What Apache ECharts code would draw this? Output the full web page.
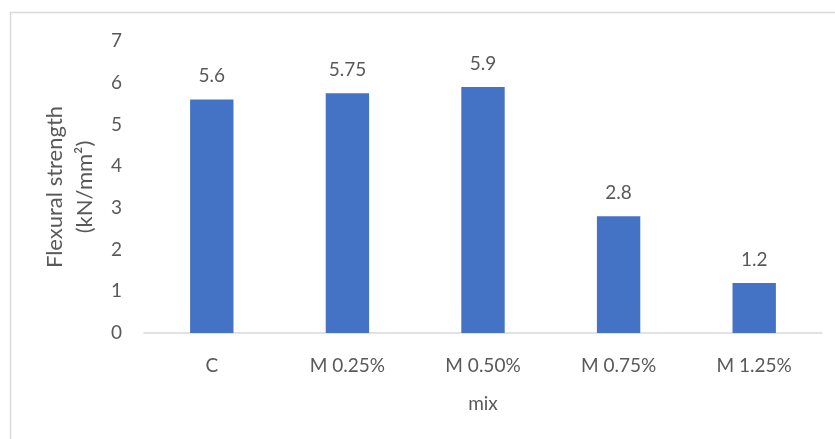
<!DOCTYPE html>
<html>
<head>
<meta charset="utf-8">
<script src="https://cdn.jsdelivr.net/npm/echarts@6/dist/echarts.min.js"></script>
<style>
  html, body { margin: 0; padding: 0; background: #fff; }
  #chart { width: 835px; height: 439px; }
</style>
</head>
<body>
<div id="chart"></div>
<script>
// Flexural strength per mix
const categories = ['C', 'M 0.25%', 'M 0.50%', 'M 0.75%', 'M 1.25%'];
const strength = [5.6, 5.75, 5.9, 2.8, 1.2];
const yTicks = { min: 0, max: 7, interval: 1 };

const textColor = '#595959';
const fontFamily = 'Lato, "Open Sans", sans-serif';

const chart = echarts.init(document.getElementById('chart'), null, { renderer: 'canvas' });
chart.setOption({
  animation: false,
  backgroundColor: '#ffffff',
  textStyle: { fontFamily: fontFamily, color: textColor },
  graphic: [{
    type: 'rect',
    shape: { x: 10.5, y: 12.5, width: 1000, height: 1000 },
    style: { fill: 'none', stroke: '#d9d9d9', lineWidth: 1.5 },
    silent: true
  }],
  grid: { left: 144, right: 13, top: 41, bottom: 106, containLabel: false },
  xAxis: {
    type: 'category',
    data: categories,
    name: 'mix',
    nameLocation: 'middle',
    nameGap: 61,
    nameTextStyle: { fontSize: 19, color: textColor, fontFamily: fontFamily },
    axisLine: { lineStyle: { color: '#d9d9d9', width: 1.5 } },
    axisTick: { show: false },
    axisLabel: { fontSize: 19, color: textColor, margin: 23, fontFamily: fontFamily }
  },
  yAxis: {
    type: 'value',
    min: yTicks.min,
    max: yTicks.max,
    interval: yTicks.interval,
    name: 'Flexural strength\n(kN/mm\u00B2)',
    nameLocation: 'middle',
    nameGap: 42,
    nameRotate: 90,
    nameTextStyle: { fontSize: 22, lineHeight: 30, color: textColor, fontFamily: fontFamily },
    axisLine: { show: false },
    axisTick: { show: false },
    splitLine: { show: false },
    axisLabel: { fontSize: 19, color: textColor, margin: 22, fontFamily: fontFamily }
  },
  series: [{
    type: 'bar',
    data: strength,
    barWidth: '32%',
    itemStyle: { color: '#4472C4' },
    label: {
      show: true,
      position: 'top',
      distance: 14,
      fontSize: 19,
      color: textColor,
      fontFamily: fontFamily
    }
  }]
});
</script>
</body>
</html>
